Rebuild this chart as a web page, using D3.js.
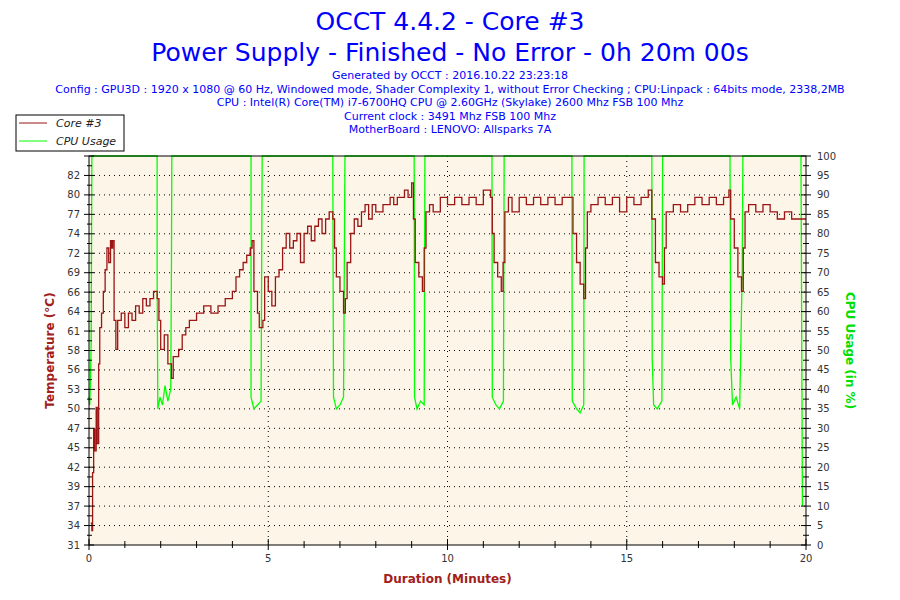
<!DOCTYPE html>
<html><head><meta charset="utf-8">
<script src="https://cdn.jsdelivr.net/npm/d3@7"></script>
<style>body{margin:0;background:#fff;font-family:Tahoma,"DejaVu Sans",sans-serif}</style>
</head><body><svg id="chart" width="900" height="600"></svg>
<script>
// temperature (°C) samples: [minute, value]
const tempData = [
  [0.05,34],[0.08,33],[0.1,41],[0.13,47],[0.16,44],[0.2,50],[0.23,45],[0.27,56],[0.3,61],[0.35,63],[0.4,66],[0.45,69],[0.5,72],[0.55,70],[0.6,73],[0.63,72],[0.66,73],
  [0.7,62],[0.75,58],[0.8,62],[0.9,63],[1.0,61],[1.1,63],[1.2,62],[1.3,64],[1.4,63],[1.5,65],[1.6,64],[1.7,65],[1.8,66],[1.9,65],
  [1.95,62],[2.0,58],[2.1,60],[2.2,56],[2.3,54],[2.35,57],[2.5,58],[2.6,60],[2.7,61],[2.8,62],[3.0,63],[3.2,64],[3.4,63],[3.6,64],[3.8,65],[4.0,66],[4.1,68],[4.2,69],[4.3,70],[4.4,71],[4.5,72],[4.55,73],
  [4.6,66],[4.7,63],[4.75,61],[4.85,62],[4.9,68],[5.0,66],[5.1,64],[5.2,68],[5.3,69],[5.4,72],[5.5,74],[5.6,72],[5.7,73],[5.8,74],[5.9,70],[6.0,74],[6.1,75],[6.2,73],[6.3,75],[6.4,76],[6.5,74],[6.6,76],[6.7,77],[6.8,76],
  [6.85,72],[6.9,68],[7.0,66],[7.1,63],[7.15,65],[7.2,70],[7.3,74],[7.4,76],[7.5,75],[7.6,77],[7.7,78],[7.8,76],[7.9,78],[8.0,77],[8.2,78],[8.4,79],[8.5,78],[8.6,79],[8.8,80],[8.9,79],[9.0,81],
  [9.05,76],[9.1,70],[9.2,68],[9.3,66],[9.35,72],[9.4,77],[9.5,78],[9.6,77],[9.8,79],[10.0,78],[10.2,79],[10.4,78],[10.6,79],[10.8,78],[11.0,80],[11.2,79],
  [11.25,74],[11.3,70],[11.4,68],[11.5,66],[11.55,70],[11.6,77],[11.7,79],[11.8,77],[12.0,79],[12.2,78],[12.4,79],[12.6,78],[12.8,79],[13.0,78],[13.2,79],[13.4,79],
  [13.5,74],[13.6,70],[13.7,67],[13.8,65],[13.85,72],[13.9,77],[14.0,78],[14.2,79],[14.4,78],[14.6,79],[14.8,77],[15.0,79],[15.2,78],[15.4,79],[15.6,80],
  [15.7,76],[15.8,70],[15.9,68],[16.0,67],[16.05,72],[16.1,77],[16.3,78],[16.5,77],[16.7,78],[16.9,79],[17.1,78],[17.3,79],[17.5,78],[17.7,79],[17.85,80],
  [17.9,76],[18.0,72],[18.1,68],[18.2,66],[18.25,72],[18.3,77],[18.4,78],[18.6,77],[18.8,78],[19.0,77],[19.2,76],[19.4,77],[19.6,76],[19.8,76],[20.0,76]
];
// CPU usage (%) samples: [minute, value]
const cpuData = [
  [0,38],[0.02,36],[0.04,42],[0.06,52],[0.08,100],
  [1.9,100],[1.9,70],[1.92,35],[1.98,38],[2.05,36],[2.12,41],[2.2,37],[2.28,40],[2.3,72],[2.31,100],
  [4.52,100],[4.52,38],[4.6,35],[4.7,36],[4.8,37],[4.83,100],
  [6.8,100],[6.82,38],[6.9,35],[7.0,36],[7.1,38],[7.14,100],
  [9.07,100],[9.08,38],[9.15,35],[9.25,37],[9.35,36],[9.37,100],
  [11.24,100],[11.25,38],[11.35,36],[11.45,35],[11.56,37],[11.58,100],
  [13.47,100],[13.48,37],[13.6,35],[13.7,34],[13.8,36],[13.81,100],
  [15.7,100],[15.71,48],[15.75,36],[15.85,35],[15.98,37],[16.0,100],
  [17.88,100],[17.9,48],[17.95,36],[18.05,38],[18.15,35],[18.22,70],[18.24,100],
  [19.86,100],[19.9,10]
];
const leftTicks = [31,34,37,39,42,45,47,50,53,56,58,61,64,66,69,72,74,77,80,82,85];
const rightTicks = d3.range(0, 101, 5);
const xTicks = [0,5,10,15,20];

const svg = d3.select("#chart");
const L = 89, R = 806, T = 156, B = 545;
const x = d3.scaleLinear().domain([0,20]).range([L,R]);
const yR = d3.scaleLinear().domain([0,100]).range([B,T]);
const yT = d3.scaleLinear().domain([31,84.7]).range([B,T]);
const kPos = d3.scaleLinear().domain([0,20]).range([B,T]);

svg.append("rect").attr("x",L).attr("y",T).attr("width",R-L).attr("height",B-T).attr("fill","#fdf6e8");

// dotted grid
const grid = svg.append("g").attr("stroke","#000").attr("stroke-dasharray","1,4");
leftTicks.forEach((t,i)=>{ if(i>0&&i<20) grid.append("line").attr("x1",L).attr("x2",R).attr("y1",kPos(i)).attr("y2",kPos(i)); });
xTicks.slice(1,-1).forEach(t=>grid.append("line").attr("x1",x(t)).attr("x2",x(t)).attr("y1",T).attr("y2",B));

// lines
svg.append("path").datum(cpuData).attr("fill","none").attr("stroke","#00ff00").attr("stroke-width",1.3)
  .attr("d", d3.line().x(d=>x(d[0])).y(d=>yR(d[1])));
svg.append("path").datum(tempData).attr("fill","none").attr("stroke","#9b1515").attr("stroke-width",1.3)
  .attr("d", d3.line().curve(d3.curveStepAfter).x(d=>x(d[0])).y(d=>yT(d[1])));

// frame
svg.append("rect").attr("x",L).attr("y",T).attr("width",R-L).attr("height",B-T).attr("fill","none").attr("stroke","#000");

const ax = svg.append("g").attr("stroke","#000");
const txt = svg.append("g").attr("font-size",10).attr("fill","#333");
leftTicks.forEach((t,i)=>{
  const y = kPos(i);
  ax.append("line").attr("x1",L-5).attr("x2",L+5).attr("y1",y).attr("y2",y);
  if(i<20) ax.append("line").attr("x1",L-2).attr("x2",L+3).attr("y1",kPos(i+0.5)).attr("y2",kPos(i+0.5));
  if(i<20) txt.append("text").attr("x",L-9).attr("y",y+3.5).attr("text-anchor","end").text(t);
});
rightTicks.forEach((t,i)=>{
  const y = yR(t);
  ax.append("line").attr("x1",R-5).attr("x2",R+5).attr("y1",y).attr("y2",y);
  if(i<20) ax.append("line").attr("x1",R-3).attr("x2",R+3).attr("y1",yR(t+2.5)).attr("y2",yR(t+2.5));
  txt.append("text").attr("x",R+11).attr("y",y+3.5).text(t);
});
d3.range(0,21).forEach(m=>{
  ax.append("line").attr("x1",x(m)).attr("x2",x(m)).attr("y1",B).attr("y2",B-(m%5===0?6:4));
  ax.append("line").attr("x1",x(m)).attr("x2",x(m)).attr("y1",B).attr("y2",B+(m%5===0?5:3));
});
xTicks.forEach(t=>txt.append("text").attr("x",x(t)).attr("y",B+17).attr("text-anchor","middle").text(t));

// axis titles
svg.append("text").attr("x",(L+R)/2).attr("y",583).attr("text-anchor","middle").attr("font-size",12).attr("font-weight","bold").attr("fill","#a0201a").text("Duration (Minutes)");
svg.append("text").attr("transform",`translate(54,${(T+B)/2}) rotate(-90)`).attr("text-anchor","middle").attr("font-size",12).attr("font-weight","bold").attr("fill","#a0201a").text("Temperature (°C)");
svg.append("text").attr("transform",`translate(846,${(T+B)/2}) rotate(90)`).attr("text-anchor","middle").attr("font-size",12).attr("font-weight","bold").attr("fill","#00e000").text("CPU Usage (in %)");

// titles
const blue = "#0000ff";
svg.append("text").attr("x",450).attr("y",30).attr("text-anchor","middle").attr("font-size",25).attr("fill",blue).text("OCCT 4.4.2 - Core #3");
svg.append("text").attr("x",450).attr("y",61).attr("text-anchor","middle").attr("font-size",25).attr("fill",blue).text("Power Supply - Finished - No Error - 0h 20m 00s");
["Generated by OCCT : 2016.10.22 23:23:18",
 "Config : GPU3D : 1920 x 1080 @ 60 Hz, Windowed mode, Shader Complexity 1, without Error Checking ; CPU:Linpack : 64bits mode, 2338,2MB",
 "CPU : Intel(R) Core(TM) i7-6700HQ CPU @ 2.60GHz (Skylake) 2600 Mhz FSB 100 Mhz",
 "Current clock : 3491 Mhz FSB 100 Mhz",
 "MotherBoard : LENOVO: Allsparks 7A"].forEach((s,i)=>
  svg.append("text").attr("x",450).attr("y",79+i*13.5).attr("text-anchor","middle").attr("font-size",11).attr("fill",blue).text(s));

// legend
const lg = svg.append("g");
lg.append("rect").attr("x",16).attr("y",115).attr("width",108).attr("height",36).attr("fill","#fff").attr("stroke","#000");
[["Core #3","#9b1515"],["CPU Usage","#00ff00"]].forEach((d,i)=>{
  const y = 123+i*18;
  lg.append("line").attr("x1",19).attr("x2",47).attr("y1",y).attr("y2",y).attr("stroke",d[1]);
  lg.append("text").attr("x",56).attr("y",y+4).attr("font-size",11).attr("font-style","italic").attr("fill","#222").text(d[0]);
});
</script></body></html>
